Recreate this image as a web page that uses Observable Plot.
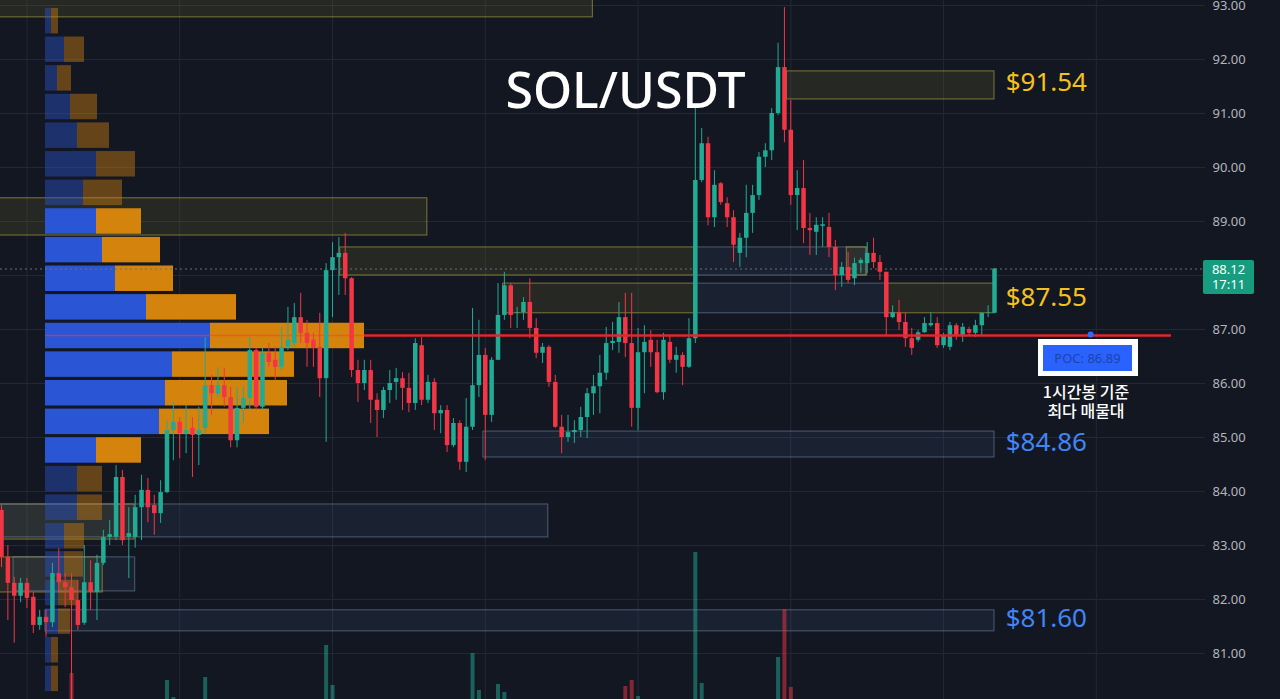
<!DOCTYPE html>
<html><head><meta charset="utf-8">
<script src="https://cdn.jsdelivr.net/npm/d3@7"></script>
<script src="https://cdn.jsdelivr.net/npm/@observablehq/plot@0.6"></script>
<style>
html,body{margin:0;padding:0;background:#131722;overflow:hidden;}
#wrap{position:relative;width:1280px;height:699px;overflow:hidden;background:#131722;}
#wrap svg{position:absolute;left:0;top:0;}
.tag{position:absolute;left:1203px;top:260px;width:51px;height:34px;background:#169c7f;color:#fff;font:13px "Noto Sans",sans-serif;line-height:15px;text-align:center;padding-top:2px;box-sizing:border-box;border-radius:2px;}
.poc{position:absolute;left:1038px;top:339px;width:100px;height:37px;background:#fff;}
.poc div{position:absolute;left:5px;top:6px;width:89px;height:26px;background:#2962ff;color:#2043a8;font:13px "Noto Sans",sans-serif;line-height:26px;text-align:center;}
.note{position:absolute;left:1035px;width:102px;height:19px;text-align:center;color:#fff;font:500 16px "Noto Sans CJK KR",sans-serif;line-height:19px;white-space:nowrap;}
</style></head><body><div id="wrap"></div>
<script>
// ---- candle data (1h SOL/USDT) ----
const opens = [83.65,82.78,82.30,82.06,82.30,82.04,81.52,81.67,81.57,82.48,
82.31,82.22,81.98,81.56,82.31,82.13,82.67,83.15,83.15,84.26,
83.15,83.15,83.70,84.02,83.74,83.59,83.98,85.13,85.28,85.07,
85.17,85.04,85.17,85.96,85.81,85.96,85.74,84.94,85.54,85.72,
86.61,85.56,86.56,86.43,86.30,86.67,86.74,87.22,86.93,86.80,
86.67,86.09,88.09,88.33,88.41,87.94,86.24,86.00,86.24,85.69,
85.50,85.87,86.02,86.09,85.91,85.63,86.70,85.69,86.02,85.44,
85.50,84.85,85.26,84.54,85.19,85.96,86.52,85.41,86.43,87.26,
87.81,87.30,87.31,87.50,87.02,86.56,86.67,86.02,85.19,85.00,
85.09,85.13,85.37,85.81,85.94,86.19,86.74,86.76,87.22,86.74,
85.54,86.57,86.80,86.57,85.83,86.76,86.43,86.52,86.30,86.83,
89.76,90.44,89.07,89.70,89.33,89.07,88.41,88.69,89.15,89.48,
90.19,90.31,91.00,91.85,90.69,89.48,89.61,88.87,88.80,88.91,
88.89,88.52,88.00,88.15,87.94,88.22,88.22,88.41,88.24,88.06,
87.22,87.31,87.13,86.83,86.80,86.94,87.07,87.11,86.70,86.67,
87.07,86.89,87.00,86.93,87.07,87.30,87.30];
const closes = [82.78,82.30,82.06,82.30,82.02,81.52,81.67,81.57,82.48,82.31,
82.22,81.98,81.52,82.31,82.13,82.67,83.15,83.20,84.26,83.09,
83.22,83.70,84.02,83.70,83.59,83.98,85.13,85.28,85.07,85.13,
85.04,85.13,85.96,85.81,85.96,85.74,84.94,85.54,85.72,86.61,
85.56,86.56,86.39,86.30,86.67,86.80,87.22,86.93,86.74,86.65,
86.09,88.09,88.33,88.41,87.94,86.24,86.00,86.24,85.69,85.50,
85.87,86.00,86.09,85.91,85.63,86.74,85.69,86.02,85.44,85.50,
84.85,85.26,84.54,85.19,85.96,86.52,85.41,86.43,87.26,87.81,
87.26,87.31,87.50,87.02,86.56,86.67,86.02,85.19,85.00,85.09,
85.13,85.37,85.81,85.94,86.19,86.74,86.78,87.22,86.74,85.54,
86.57,86.76,86.57,85.83,86.80,86.43,86.52,86.30,86.83,89.76,
90.44,89.07,89.67,89.35,89.07,88.56,88.69,89.15,89.48,90.19,
90.31,91.00,91.85,90.69,89.48,89.61,88.87,88.83,88.93,88.94,
88.52,88.00,88.15,87.91,88.22,88.28,88.41,88.24,88.06,87.22,
87.31,87.13,86.83,86.65,86.94,87.11,87.11,86.70,86.89,87.07,
86.89,87.04,86.93,87.07,87.30,87.31,88.12];
const highs = [83.74,83.00,82.41,82.39,82.39,82.13,81.80,81.80,82.67,82.94,
82.48,82.48,82.35,83.00,82.72,82.82,83.28,83.46,84.48,84.39,
83.70,83.93,84.30,84.24,83.93,84.20,85.31,85.65,85.37,85.59,
85.37,85.56,86.85,86.15,86.30,86.28,85.93,85.93,85.93,86.85,
86.65,86.65,86.74,86.67,87.04,87.41,87.48,87.67,87.17,86.93,
87.30,88.22,88.61,88.70,88.78,87.96,86.43,86.43,86.43,85.81,
85.93,86.24,86.28,86.20,86.19,86.83,86.85,86.15,86.09,85.59,
85.59,85.35,85.31,85.72,87.39,87.17,86.65,86.48,87.85,88.06,
87.85,87.41,87.59,87.94,87.20,86.74,86.70,86.15,85.41,85.41,
85.31,85.56,85.91,86.15,86.52,87.04,87.13,87.50,87.67,87.67,
87.02,87.07,86.98,86.80,86.93,86.89,86.67,86.57,87.20,91.11,
90.72,90.56,89.94,89.72,89.44,89.20,88.78,89.67,89.67,90.28,
90.44,91.09,92.30,92.96,91.24,89.94,90.13,89.15,89.07,89.07,
89.15,88.65,88.24,88.43,88.32,88.32,88.61,88.69,88.37,88.06,
87.44,87.54,87.30,87.02,86.98,87.22,87.31,87.22,86.93,87.13,
87.11,87.11,87.04,87.17,87.31,87.44,88.13];
const lows = [82.59,81.61,81.19,81.94,81.83,81.37,81.43,81.30,81.48,82.11,
81.85,80.04,81.43,81.52,81.80,81.61,82.63,83.00,83.09,83.00,
82.39,82.95,83.09,83.42,83.19,83.41,83.96,84.57,84.61,84.70,
84.26,84.48,85.07,85.41,85.74,85.56,84.81,84.81,85.26,85.50,
85.50,85.50,86.30,86.06,86.24,86.61,86.67,86.74,86.30,86.30,
85.74,84.91,87.22,87.63,87.63,86.11,85.65,85.87,85.26,85.00,
85.35,85.63,85.69,85.50,85.46,85.50,85.59,85.63,85.13,85.07,
84.72,84.81,84.39,84.35,85.13,85.74,84.57,85.28,86.43,87.17,
87.02,87.02,87.17,86.83,86.46,86.37,85.93,85.17,84.70,84.91,
84.89,85.00,84.98,85.41,85.44,86.06,86.61,86.56,86.48,85.19,
85.13,85.81,86.30,85.81,85.69,86.37,86.19,85.96,86.28,86.74,
89.72,88.92,88.89,89.30,88.89,88.24,88.15,88.33,88.78,89.39,
90.00,90.13,90.96,90.46,89.30,88.83,88.59,88.37,88.37,88.52,
88.33,87.72,87.78,87.85,87.81,88.04,88.04,88.13,87.91,86.89,
87.20,86.98,86.67,86.52,86.76,86.93,87.04,86.65,86.65,86.61,
86.80,86.76,86.89,86.85,86.89,87.22,87.30];
const volumes = [12,9,14,6,5,10,7,6,15,11,
8,47,12,16,7,10,14,6,18,15,
9,11,12,8,7,13,40,23,10,8,
9,7,43,12,6,8,14,11,7,16,
15,13,6,5,9,12,14,10,8,6,
13,75,35,12,11,19,10,6,12,9,
8,6,5,7,8,17,15,7,10,6,
11,9,13,15,67,30,18,14,36,28,
12,6,7,11,10,5,9,14,12,6,
5,7,10,8,9,13,6,12,34,40,
24,10,6,12,13,7,5,6,11,168,
37,19,14,8,7,12,10,11,9,13,
8,14,63,111,33,12,14,8,7,5,
8,12,7,6,8,5,7,6,8,16,
6,7,9,8,5,6,5,8,5,7,
5,6,4,5,8,5,14];

// ---- volume profile ----
const profileLevels = [92.71,92.18,91.65,91.12,90.59,90.06,89.53,89.00,88.47,87.94,87.41,86.88,
                       86.35,85.82,85.29,84.76,84.23,83.70,83.17,82.65,82.12,81.59,81.06,80.53];
const profileBuy  = [6,19,12,25,32,51,38,51,57,70,101,165,127,120,114,51,32,32,19,19,13,13,6,6];
const profileSell = [7,20,14,27,32,39,39,45,58,58,90,154,122,122,110,45,25,25,20,19,20,12,7,7];
const valueAreaHigh = 89.30, valueAreaLow = 84.50;
const poc = 86.89;
const lastPrice = 88.12;
const lastTime = "17:11";

// ---- zones ----
const zoneStart = [-6,-6,123.4,53.2,108.8,132.8,78.8,108.8,138.9,75.7,-6,-6,-6,1.9,6.9];
const zoneEnd   = [92.9,66.9,156,108.8,135.8,136.0,108.8,138.9,156,156,20.9,85.9,15.9,21.0,156];
const zoneLow   = [92.78,88.74,91.26,88.00,88.00,88.00,87.30,87.30,87.30,84.63,83.11,83.15,82.13,82.15,81.41];
const zoneHigh  = [93.30,89.43,91.78,88.52,88.52,88.52,87.85,87.85,87.85,85.11,83.76,83.76,82.78,82.78,81.80];
const zoneKind  = ["supply","supply","supply","supply","demand","supply","supply","demand","supply","demand","supply","demand","supply","demand","demand"];

// ---- labels / ticks ----
const levelLabels = [91.54, 87.55, 84.86, 81.60];
const levelKinds = ["supply","supply","demand","demand"];
const priceTicks = [81,82,83,84,85,86,87,88,89,90,91,92,93];
const dayTicks = [4,28,52,76,100,124,148,172];
const noteLines = ["1시간봉 기준", "최다 매물대"];

// ---- build ----
const candles = opens.map((o,i)=>({i, open:o, close:closes[i], high:highs[i], low:lows[i], volume:volumes[i], up: closes[i] >= o}));
const profile = profileLevels.map((p,k)=>({level:p, buy:profileBuy[k], sell:profileSell[k], inVA: p <= valueAreaHigh && p >= valueAreaLow}));
const zones = zoneStart.map((s,k)=>({x1:s, x2:zoneEnd[k], y1:zoneLow[k], y2:zoneHigh[k], kind:zoneKind[k]}));
const labels = levelLabels.map((v,k)=>({v, kind:levelKinds[k]}));
// the last-price tag covers the tick label nearest to it
const axisTicks = priceTicks.filter(t => Math.abs(t - lastPrice) > 0.3);

const UP = "#22ab94", DOWN = "#f23645";
const W = 1280, H = 699;
const yPrice = {domain: [80.1482, 93.0926], range: [H, 0], axis: null};
const common = {
  width: W, height: H, marginLeft: 0, marginRight: 75, marginTop: 0, marginBottom: 0,
  y: yPrice,
  style: {background: "transparent", fontFamily: "'Noto Sans', sans-serif", overflow: "visible"}
};
const xCandle = {type: "linear", domain: [0, 156], range: [1, 994], axis: null};
const zoneFill = k => k === "supply" ? "rgba(150,140,50,0.15)" : "rgba(90,130,190,0.10)";
const zoneStroke = k => k === "supply" ? "rgba(190,175,70,0.6)" : "rgba(130,155,190,0.5)";

const wrap = document.getElementById("wrap");

// base: grid, zones, axis
const base = Plot.plot({
  ...common,
  x: xCandle,
  style: {...common.style, background: "#131722"},
  marks: [
    Plot.ruleY(priceTicks, {stroke: "#232837", strokeWidth: 1}),
    Plot.ruleX(dayTicks, {stroke: "#232837", strokeWidth: 1}),
    Plot.rect(zones, {x1: "x1", x2: "x2", y1: "y1", y2: "y2", fill: d => zoneFill(d.kind), stroke: d => zoneStroke(d.kind), strokeWidth: 1}),
    Plot.axisY(axisTicks, {anchor: "right", tickSize: 0, tickPadding: 7, tickFormat: d3.format(".2f"), fontSize: 13, fill: "#b2b5be", label: null})
  ]
});
wrap.appendChild(base);

// volume profile
const prof = Plot.plot({
  ...common,
  x: {type: "linear", domain: [0, 400], range: [45, 445], axis: null},
  marks: [
    Plot.rect(profile, {x1: 0, x2: "buy", y1: d => d.level - 0.236, y2: d => d.level + 0.236, fill: "#2a56d6", fillOpacity: d => d.inVA ? 1 : 0.42}),
    Plot.rect(profile, {x1: "buy", x2: d => d.buy + d.sell, y1: d => d.level - 0.236, y2: d => d.level + 0.236, fill: "#d4830c", fillOpacity: d => d.inVA ? 1 : 0.42})
  ]
});
wrap.appendChild(prof);

// volume bars
const vol = Plot.plot({
  ...common,
  x: xCandle,
  y: {domain: [0, 200], range: [720, 520], axis: null},
  marks: [
    Plot.ruleX(candles, {x: "i", y1: 0, y2: "volume", stroke: d => d.up ? UP : DOWN, strokeOpacity: 0.5, strokeWidth: 4})
  ]
});
wrap.appendChild(vol);

// candles & overlays
const main = Plot.plot({
  ...common,
  x: xCandle,
  marks: [
    Plot.ruleY([poc], {x1: 6.9, x2: 57, stroke: "#ff3b3b", strokeOpacity: 0.55, strokeWidth: 1.5}),
    Plot.ruleY([lastPrice], {stroke: "#6b7080", strokeDasharray: "2,3", strokeWidth: 1}),
    Plot.ruleX(candles, {x: "i", y1: "low", y2: "high", stroke: d => d.up ? UP : DOWN, strokeWidth: 1}),
    Plot.ruleX(candles, {x: "i", y1: "open", y2: "close", stroke: d => d.up ? UP : DOWN, strokeWidth: 4.5}),
    Plot.ruleY([poc], {x1: 57, x2: 183.8, stroke: "#e3262f", strokeWidth: 2.5}),
    Plot.dot([poc], {x: 171.1, y: d => d, r: 3, fill: "#2f6bff", dy: -1}),
    Plot.text(labels, {x: 157.75, y: "v", dy: -2, text: d => "$" + d.v.toFixed(2), textAnchor: "start", fontSize: 26, fill: d => d.kind === "supply" ? "#f5c21b" : "#4285f4"}),
    Plot.text(["SOL/USDT"], {frameAnchor: "top-left", dx: 625, dy: 72, textAnchor: "middle", fontSize: 50, fontWeight: 500, fill: "#ffffff"})
  ]
});
wrap.appendChild(main);

// html overlays (price tag, POC tag, note)
const tag = document.createElement("div");
tag.className = "tag"; tag.innerHTML = lastPrice.toFixed(2) + "<br>" + lastTime;
wrap.appendChild(tag);
const pocBox = document.createElement("div");
pocBox.className = "poc"; pocBox.innerHTML = "<div>POC: " + poc.toFixed(2) + "</div>";
wrap.appendChild(pocBox);
noteLines.forEach((line, k) => {
  const d = document.createElement("div");
  d.className = "note"; d.style.top = (382 + 19 * k) + "px"; d.textContent = line;
  wrap.appendChild(d);
});
</script></body></html>
